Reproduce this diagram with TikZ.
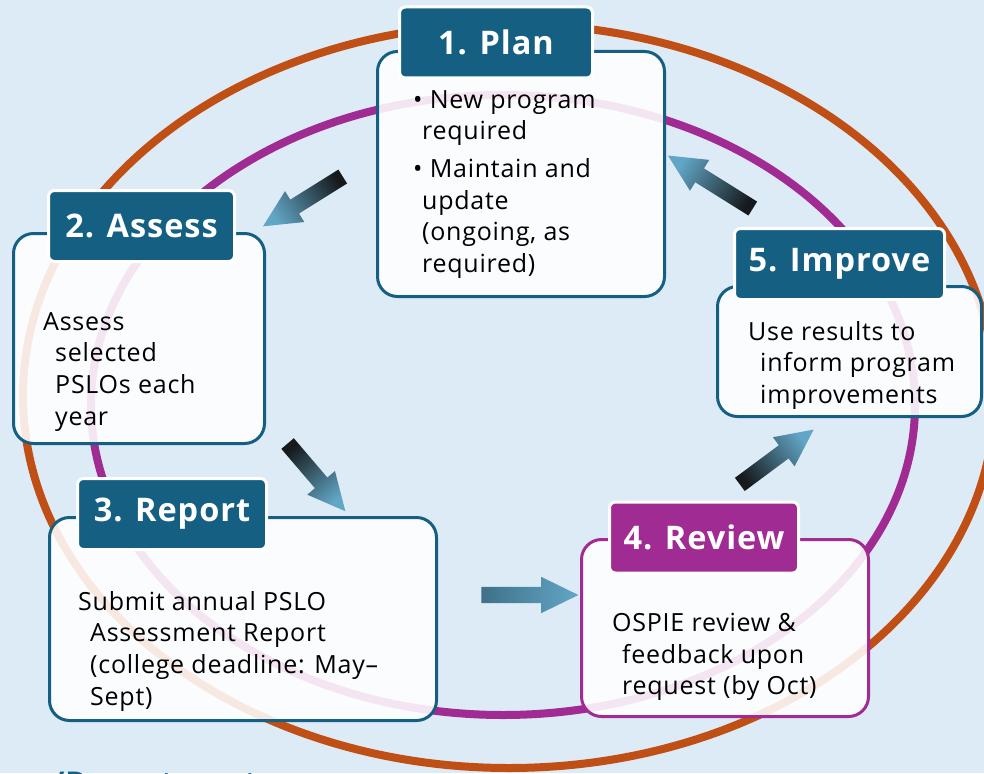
\documentclass[tikz,border=0pt]{standalone}
\usepackage{fontspec}
\setmainfont{Open Sans}[LetterSpace=3]
\usetikzlibrary{
	shapes.arrows,
	positioning,
	calc,
}
\definecolor{PageBlue}{HTML}{DDEBF7}
\definecolor{CycleTeal}{HTML}{156082}
\definecolor{CycleOrange}{HTML}{C04F15}
\definecolor{CyclePurple}{HTML}{A02B93}
\definecolor{ArrowDark}{HTML}{161A1C}
\definecolor{ArrowMid}{HTML}{3F7188}
\definecolor{ArrowLight}{HTML}{62A6C6}

\begin{document}
\begin{tikzpicture}[
		x=1pt, y=-1pt,
		every node/.style={font=\fontsize{25}{31.7}\selectfont},
		body/.style = {rectangle, rounded corners=20pt, draw=CycleTeal,
			line width=3pt, fill=white, fill opacity=0.88, inner sep=0pt},
		head/.style = {rectangle, rounded corners=6pt, fill=CycleTeal,
			draw=white, line width=3pt, text=white, inner sep=0pt,
			minimum height=71pt,
			font=\fontsize{32.5}{36}\selectfont\bfseries},
		txt/.style = {anchor=north west, align=left, inner sep=0pt},
		blockarrow/.style = {single arrow, minimum width=36pt,
			single arrow head extend=10pt, single arrow tip angle=52,
			inner sep=8pt, left color=#1, right color=ArrowLight},
		blockarrow/.default = ArrowDark,
	]
	\useasboundingbox (0,0) rectangle (984,773);
	\clip (0,0) rectangle (984,773);
	\fill[PageBlue] (0,0) rectangle (984,773);
	% the two cycles behind the boxes
	\draw[CycleOrange, line width=8pt] (509,396) ellipse [x radius=486pt, y radius=372pt];
	\draw[CyclePurple, line width=8pt] (503,405) ellipse [x radius=412pt, y radius=310pt];
	% boxes
	\node[body, minimum width=287pt, minimum height=245pt] (planbox) at (521,174) {};
	\node[body, minimum width=251pt, minimum height=210pt] (assessbox) at (139,338.5) {};
	\node[body, minimum width=387pt, minimum height=203pt] (reportbox) at (243,619) {};
	\node[body, draw=CyclePurple, minimum width=287pt, minimum height=177pt] (reviewbox) at (725,628) {};
	\node[body, minimum width=264pt, minimum height=130pt] (improvebox) at (849.5,351.5) {};
	% headings
	\node[head, minimum width=193pt] (planhead) at (496,42.5) {1. Plan};
	\node[head, minimum width=186pt] (assesshead) at (141.5,226) {2. Assess};
	\node[head, minimum width=189pt] (reporthead) at (172,514) {3. Report};
	\node[head, fill=CyclePurple, minimum width=189pt] (reviewhead) at (704,537.5) {4. Review};
	\node[head, minimum width=210pt] (improvehead) at (839.5,264) {5. Improve};
	% texts
	\node[txt] (plantxt) at (413,90) {• New program\\\hspace*{9pt}required\\[6pt]• Maintain and\\\hspace*{9pt}update\\\hspace*{9pt}(ongoing, as\\\hspace*{9pt}required)};
	\node[txt] (assesstxt) at (43,312) {Assess\\\hspace*{12pt}selected\\\hspace*{12pt}PSLOs each\\\hspace*{12pt}year};
	\node[txt] (reporttxt) at (78,591) {Submit annual PSLO\\\hspace*{12pt}Assessment Report\\\hspace*{12pt}(college deadline: May–\\\hspace*{12pt}Sept)};
	\node[txt] (reviewtxt) at (612,613) {OSPIE review \&\\\hspace*{10pt}feedback upon\\\hspace*{10pt}request (by Oct)};
	\node[txt] (improvetxt) at (748,321) {Use results to\\\hspace*{12pt}inform program\\\hspace*{12pt}improvements};
	% block arrows between the steps
	\foreach \x/\y/\a/\l/\c [count=\k] in {310/197/212/94/ArrowDark,
			311/471/-49.5/89/ArrowDark, 521.5/595/0/97/ArrowMid,
			770/462/36.6/92/ArrowDark, 717.5/186.5/148/100/ArrowDark}
		\node[blockarrow=\c, shading angle={90+\a}, minimum height=\l pt,
			rotate=\a] (step\k) at (\x,\y) {};
	\node[anchor=base west, inner sep=0pt, text=CycleTeal,
		font=\fontsize{30}{36}\selectfont\bfseries] (deptnote) at (52,793) {/Department};
\end{tikzpicture}
\end{document}
